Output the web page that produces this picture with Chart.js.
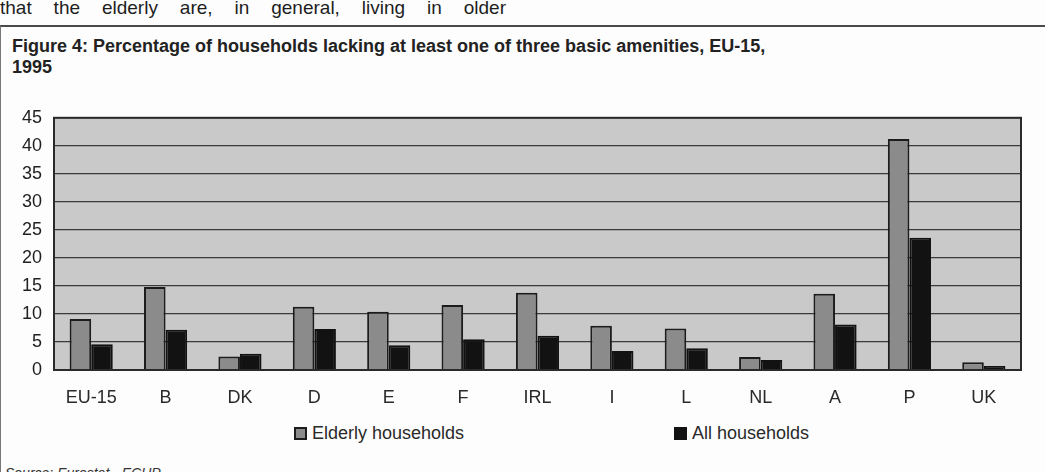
<!DOCTYPE html>
<html>
<head>
<meta charset="utf-8">
<script src="https://cdn.jsdelivr.net/npm/chart.js@4"></script>
<style>
  html, body { margin: 0; padding: 0; background: #fdfdfd; }
  body { width: 1045px; height: 472px; position: relative; overflow: hidden;
         font-family: "Liberation Sans", Arial, sans-serif; color: #222; }
  #intro { position: absolute; left: 0; top: -2px; width: 506px; font-size: 19px; line-height: 19px;
           text-align: justify; text-align-last: justify; color: #1e1e1e; }
  #frame { position: absolute; left: 0; top: 25px; width: 1060px; height: 500px;
           border-top: 2px solid #4a4a4a; border-left: 1px solid #777; }
  #title { position: absolute; left: 12px; top: 36px; font-size: 18px; font-weight: bold;
           line-height: 21px; color: #222; }
  #wrap { position: absolute; left: 0; top: 95px; width: 1045px; height: 322px; }
  .leg { position: absolute; top: 422px; font-size: 18px; line-height: 22px; color: #2a2a2a; white-space: nowrap; }
  .leg i { display: inline-block; width: 13px; height: 13px; box-sizing: border-box; margin-right: 5px;
           vertical-align: -1px; border: 2px solid #1c1c1c; }
  #source { position: absolute; left: 5px; top: 465px; font-size: 14px; font-style: italic; color: #333; }
</style>
</head>
<body>
<div id="intro">that the elderly are, in general, living in older</div>
<div id="frame"></div>
<div id="title">Figure 4: Percentage of households lacking at least one of three basic amenities, EU-15,<br>1995</div>
<div id="wrap"><canvas id="amenitiesChart"></canvas></div>
<div id="legend"></div>
<div id="source">Source: Eurostat - ECHP</div>
<script>
  const categories = ['EU-15', 'B', 'DK', 'D', 'E', 'F', 'IRL', 'I', 'L', 'NL', 'A', 'P', 'UK'];
  const elderlyHouseholds = [9.1, 14.8, 2.4, 11.3, 10.4, 11.6, 13.8, 7.9, 7.4, 2.3, 13.6, 41.2, 1.4];
  const allHouseholds = [4.6, 7.2, 2.9, 7.3, 4.4, 5.5, 6.1, 3.4, 3.9, 1.8, 8.1, 23.6, 0.7];
  const yTicks = [0, 5, 10, 15, 20, 25, 30, 35, 40, 45];

  // grey plot area with a dark frame, like the scanned figure
  const plotFrame = {
    id: 'plotFrame',
    beforeDraw(chart) {
      const a = chart.chartArea;
      const ctx = chart.ctx;
      ctx.save();
      ctx.fillStyle = '#c9c9c9';
      ctx.fillRect(a.left, a.top, a.right - a.left, a.bottom - a.top);
      ctx.restore();
    },
    afterDraw(chart) {
      const a = chart.chartArea;
      const ctx = chart.ctx;
      ctx.save();
      ctx.strokeStyle = '#2a2a2a';
      ctx.lineWidth = 2;
      ctx.strokeRect(a.left, a.top, a.right - a.left, a.bottom - a.top);
      ctx.restore();
    }
  };

  const chart = new Chart(document.getElementById('amenitiesChart'), {
    type: 'bar',
    data: {
      labels: categories,
      datasets: [{
        label: 'Elderly households',
        data: elderlyHouseholds,
        backgroundColor: '#8b8b8b',
        borderColor: '#1c1c1c',
        borderWidth: 2
      }, {
        label: 'All households',
        data: allHouseholds,
        backgroundColor: '#121212',
        borderColor: '#121212',
        borderWidth: 2
      }]
    },
    options: {
      responsive: true,
      maintainAspectRatio: false,
      animation: false,
      layout: { padding: { top: 22, right: 24, bottom: 8, left: 0 } },
      datasets: { bar: { categoryPercentage: 0.58, barPercentage: 1.0 } },
      plugins: {
        legend: { display: false },
        tooltip: { enabled: false }
      },
      scales: {
        x: {
          afterFit(scale) { scale.height = 39; },
          grid: { display: false, drawTicks: false },
          border: { display: false },
          ticks: { color: '#2a2a2a', padding: 17, maxRotation: 0, font: { family: 'Liberation Sans', size: 18 } }
        },
        y: {
          min: 0,
          max: 45,
          afterFit(scale) { scale.width = 54; },
          afterBuildTicks(scale) { scale.ticks = yTicks.map(v => ({ value: v })); },
          grid: { color: '#3a3a3a', lineWidth: 1.2, drawTicks: false },
          border: { display: false },
          ticks: { color: '#222', padding: 12, font: { family: 'Liberation Sans', size: 18 } }
        }
      }
    },
    plugins: [plotFrame]
  });

  // legend spread the way the original figure has it
  const legendLeft = [294, 674];
  chart.data.datasets.forEach((ds, i) => {
    const item = document.createElement('div');
    item.className = 'leg';
    item.style.left = legendLeft[i] + 'px';
    const box = document.createElement('i');
    box.style.background = ds.backgroundColor;
    box.style.borderColor = ds.borderColor;
    item.appendChild(box);
    item.appendChild(document.createTextNode(ds.label));
    document.getElementById('legend').appendChild(item);
  });
</script>
</body>
</html>
